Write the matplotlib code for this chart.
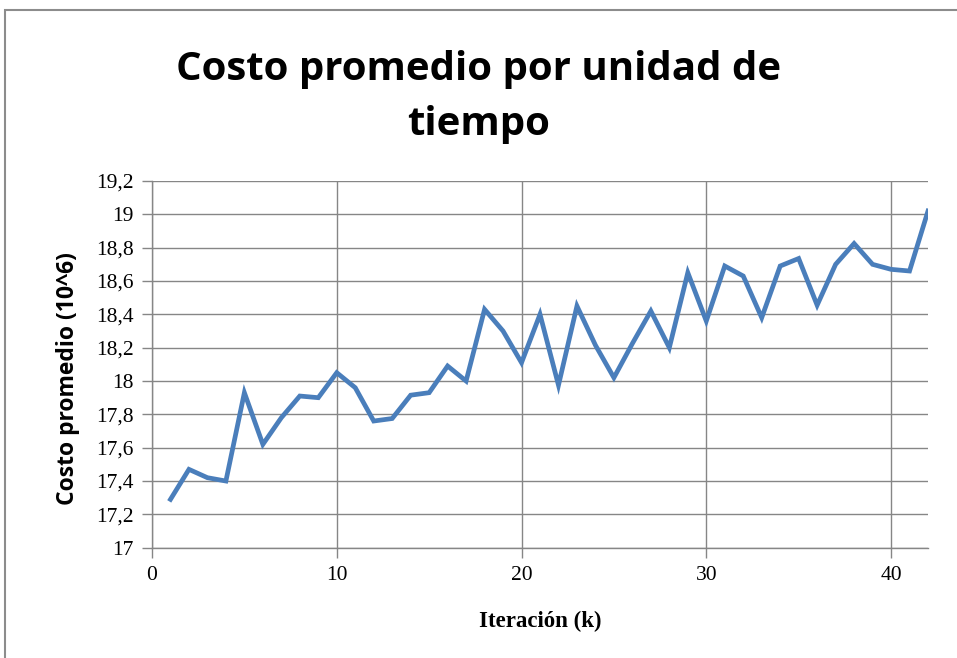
import matplotlib.pyplot as plt
from matplotlib.patches import Rectangle

# datos
iteracion = list(range(1, 43))
costo = [17.29, 17.47, 17.42, 17.40, 17.93, 17.62, 17.78, 17.91, 17.90, 18.05,
         17.96, 17.76, 17.775, 17.915, 17.93, 18.09, 18.00, 18.43, 18.30, 18.11,
         18.40, 17.975, 18.45, 18.215, 18.02, 18.225, 18.42, 18.20, 18.65, 18.36,
         18.69, 18.63, 18.38, 18.69, 18.735, 18.455, 18.70, 18.825, 18.70, 18.67,
         18.66, 19.02]
xticks = [0, 10, 20, 30, 40]
yticks = [17, 17.2, 17.4, 17.6, 17.8, 18, 18.2, 18.4, 18.6, 18.8, 19, 19.2]
ytick_labels = ["17", "17,2", "17,4", "17,6", "17,8", "18", "18,2", "18,4",
                "18,6", "18,8", "19", "19,2"]

fig = plt.figure(figsize=(9.57, 6.58), dpi=100)
fig.patches.append(Rectangle((5/957, -0.01), 1.0, 1 - 10/658 + 0.01,
                             transform=fig.transFigure, fill=False,
                             edgecolor="#8c8c8c", linewidth=1.5))

ax = fig.add_axes([152/957, 1 - 547.7/658, 776/957, 366.7/658])
ax.plot(iteracion, costo, color="#4a7ebb", linewidth=3.4, solid_joinstyle="miter")

ax.set_xlim(0, 42)
ax.set_ylim(17, 19.2)
ax.set_xticks(xticks)
ax.set_yticks(yticks)
ax.set_yticklabels(ytick_labels)
ax.grid(True, color="#868686", linewidth=1.0)
ax.set_axisbelow(True)
for s in ["top", "right"]:
    ax.spines[s].set_visible(False)
for s in ["left", "bottom"]:
    ax.spines[s].set_color("#868686")
    ax.spines[s].set_linewidth(1.0)
ax.tick_params(color="#868686", length=7, width=1.0, labelsize=15.5, pad=6)
for lab in ax.get_xticklabels() + ax.get_yticklabels():
    lab.set_family("Liberation Serif")

ax.set_xlabel("Iteración (k)", family="Liberation Serif", fontweight="bold",
              fontsize=16.5, labelpad=19)
ax.set_ylabel("Costo promedio (10^6)", family="Open Sans", fontweight="bold",
              fontsize=16.5)
ax.yaxis.set_label_coords(-0.093, 0.46)

fig.text(0.5, 1 - 97/658, "Costo promedio por unidad de\ntiempo", ha="center",
         va="center", fontsize=29, fontweight="bold", family="Open Sans",
         linespacing=1.55)

fig.savefig("out.png", dpi=100)
